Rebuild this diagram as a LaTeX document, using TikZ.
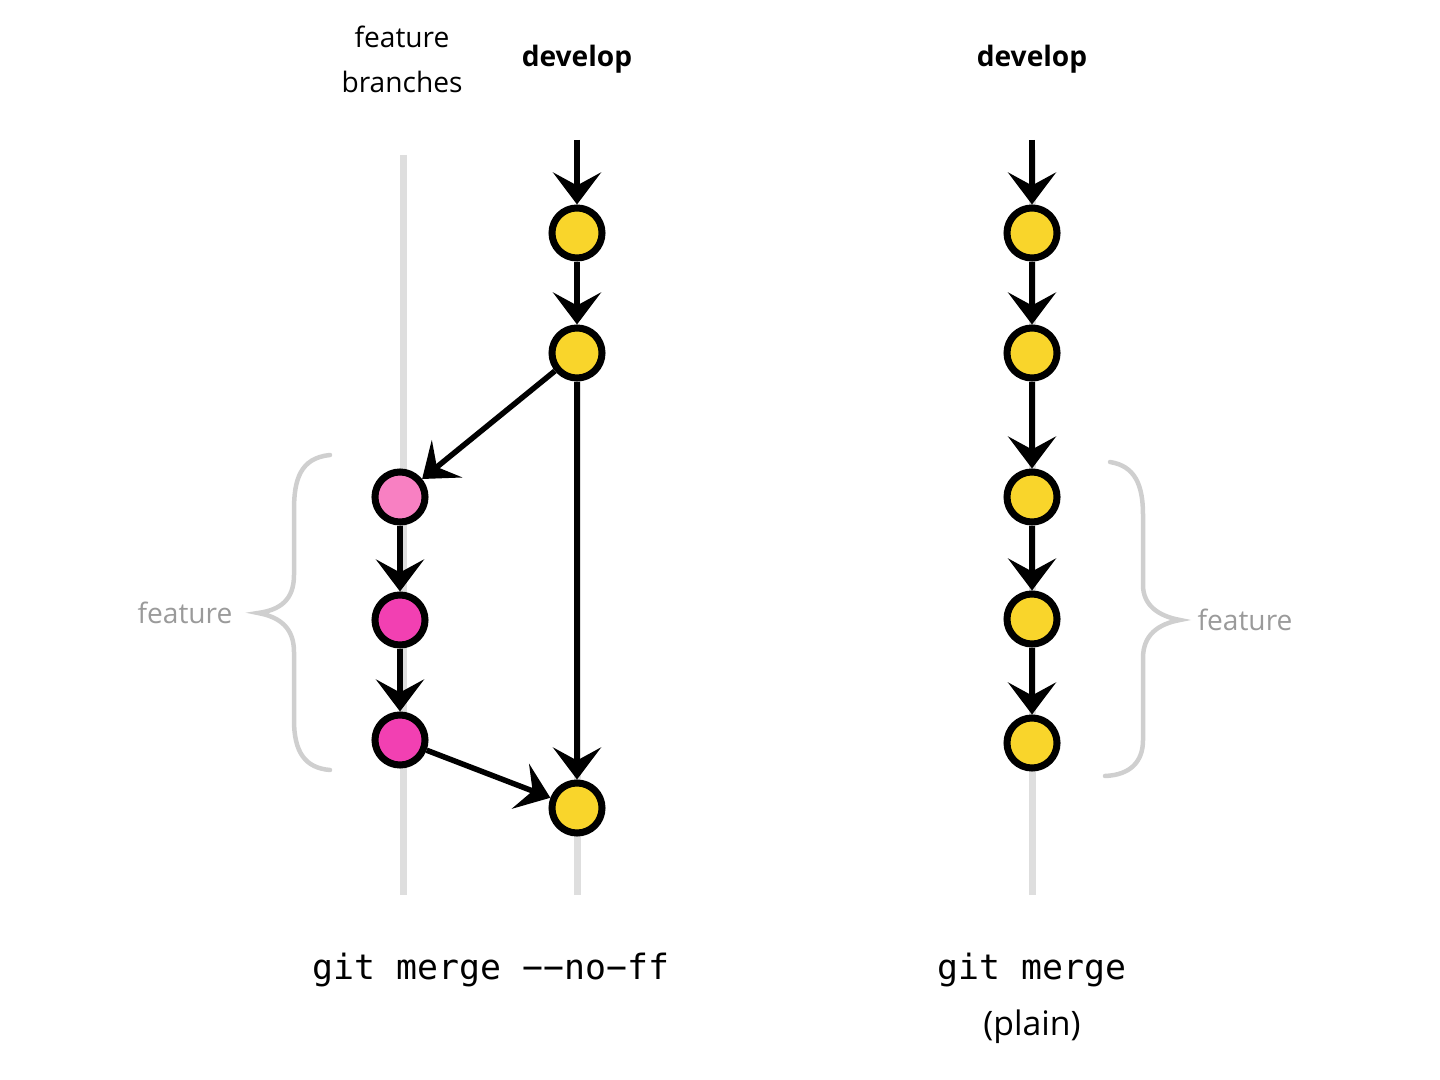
\documentclass[tikz,border=0pt]{standalone}
\usepackage{fontspec}
\setmainfont{Open Sans}
\newfontfamily\monofont{DejaVu Sans Mono}
\usetikzlibrary{arrows.meta}
\definecolor{cyellow}{HTML}{F9D52B}
\definecolor{cpinklight}{HTML}{F880C2}
\definecolor{cpink}{HTML}{F240B2}
\definecolor{cguide}{HTML}{DEDEDE}
\definecolor{cbrace}{HTML}{CFCFCF}
\definecolor{ctext}{HTML}{9A9A9A}
\begin{document}
\begin{tikzpicture}[x=0.01cm,y=-0.01cm,
  commit/.style={circle,draw=black,line width=0.07cm,minimum size=0.5cm,inner sep=0pt},
  ydot/.style={commit,fill=cyellow},
  pdot/.style={commit,fill=cpink},
  pldot/.style={commit,fill=cpinklight},
  flow/.style={line width=0.055cm,-{Stealth[length=0.32cm,width=0.48cm,inset=0.13cm]}},
  guide/.style={cguide,line width=0.07cm},
  bracel/.style={cbrace,line width=0.045cm,line cap=round},
  lbl/.style={font=\fontsize{8}{12.8}\selectfont,align=center,inner sep=0pt},
  blbl/.style={font=\fontsize{8}{10}\selectfont\bfseries,inner sep=0pt},
  glbl/.style={font=\fontsize{8}{10}\selectfont,text=ctext,inner sep=0pt},
  cmd/.style={font=\fontsize{9.9}{12}\monofont,inner sep=0pt},
  plain/.style={font=\fontsize{9.6}{12}\selectfont,inner sep=0pt}]
\useasboundingbox (0,0) rectangle (1440,1080);
% guide lines
\coordinate (gft) at (403,155);
\coordinate (gfb) at (403,895);
\coordinate (gdt) at (577,380);
\coordinate (gdb) at (577,895);
\coordinate (grt) at (1032,150);
\coordinate (grb) at (1032,895);
\draw[guide] (gft) -- (gfb);
\draw[guide] (gdt) -- (gdb);
\draw[guide] (grt) -- (grb);
% labels
\node[lbl] (lfb) at (402,59) {feature\\branches};
\node[blbl] (ldev1) at (577,59) {develop};
\node[blbl] (ldev2) at (1032,59) {develop};
% left diagram
\coordinate (s1) at (577,140);
\node[ydot] (d1) at (577,233) {};
\node[ydot] (d2) at (577,353) {};
\node[pldot] (f1) at (400,497) {};
\node[pdot] (f2) at (400,620) {};
\node[pdot] (f3) at (400,740) {};
\node[ydot] (d3) at (577,808) {};
\draw[flow] (s1) -- (d1);
\draw[flow] (d1) -- (d2);
\draw[flow] (d2) -- (f1);
\draw[flow] (d2) -- (d3);
\draw[flow] (f1) -- (f2);
\draw[flow] (f2) -- (f3);
\draw[flow] (f3) -- (d3);
% right diagram
\coordinate (s2) at (1032,140);
\node[ydot] (r1) at (1032,233) {};
\node[ydot] (r2) at (1032,353) {};
\node[ydot] (r3) at (1032,497) {};
\node[ydot] (r4) at (1032,619) {};
\node[ydot] (r5) at (1032,743) {};
\draw[flow] (s2) -- (r1);
\draw[flow] (r1) -- (r2);
\draw[flow] (r2) -- (r3);
\draw[flow] (r3) -- (r4);
\draw[flow] (r4) -- (r5);
% braces
\draw[bracel] (330,455) .. controls (300,458) and (294,480) .. (294,510)
  -- (294,575) .. controls (294,600) and (280,610) .. (258,613)
  .. controls (280,617) and (294,628) .. (294,652)
  -- (294,720) .. controls (294,752) and (305,768) .. (330,770);
\draw[bracel] (1110,462) .. controls (1135,466) and (1143,485) .. (1143,515)
  -- (1143,585) .. controls (1143,605) and (1158,616) .. (1180,620)
  .. controls (1158,624) and (1143,635) .. (1143,658)
  -- (1143,740) .. controls (1143,762) and (1130,775) .. (1105,776);
\node[glbl] (tf1) at (185,613) {feature};
\node[glbl] (tf2) at (1245,620) {feature};
% commands
\node[cmd] (c1) at (491,970) {git merge −−no−ff};
\node[cmd] (c2) at (1032,970) {git merge};
\node[plain] (c3) at (1032,1027) {(plain)};
\end{tikzpicture}
\end{document}
